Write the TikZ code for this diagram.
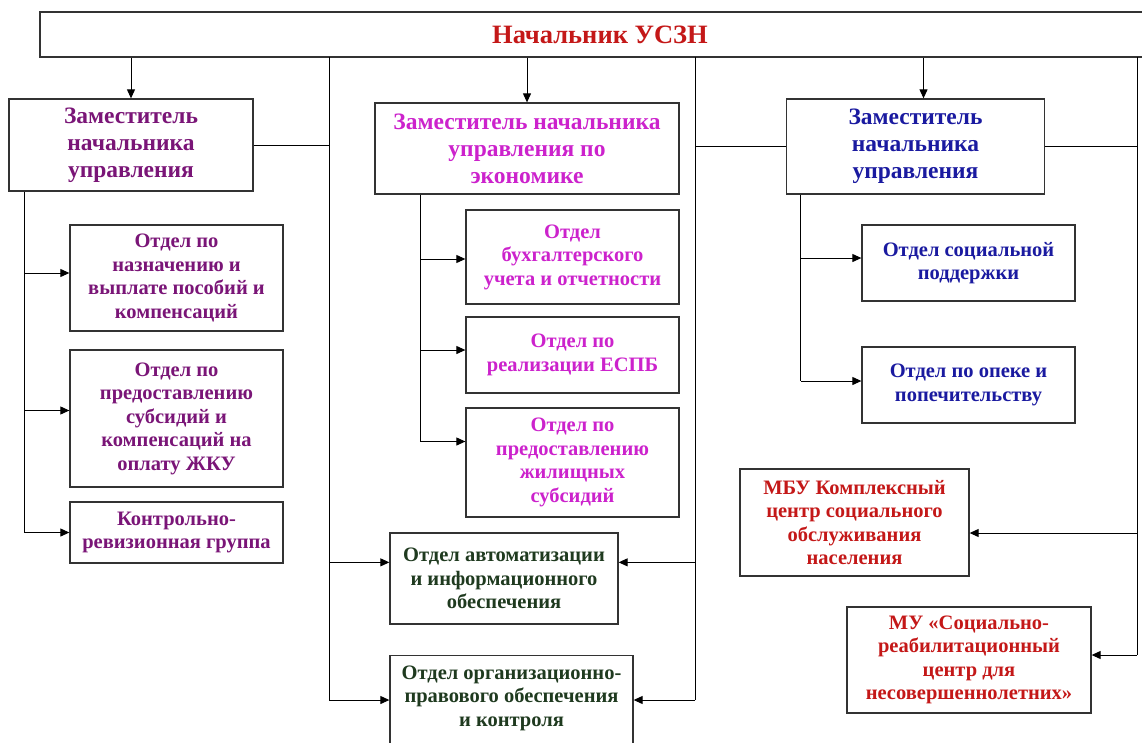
\documentclass[tikz,border=0pt]{standalone}
\usepackage{fontspec}
\setmainfont{Liberation Serif}
\usetikzlibrary{arrows.meta,calc}
\definecolor{cpur}{HTML}{7A1577}
\definecolor{cmag}{HTML}{CC22CC}
\definecolor{cblu}{HTML}{1A1AA0}
\definecolor{cgrn}{HTML}{1F3A1F}
\definecolor{cred}{HTML}{C41818}
\begin{document}
\begin{tikzpicture}[x=1pt,y=-1pt,
  box/.style={draw=black!80, line width=1.3pt, fill=white, align=center, inner sep=0pt,
    font=\bfseries\fontsize{20.5}{23.5}\selectfont},
  dep/.style={font=\bfseries\fontsize{23.5}{27}\selectfont},
  ln/.style={line width=1pt, black},
  arr/.style={ln, -{Triangle[length=9pt,width=8pt]}}]
\useasboundingbox (0,0) rectangle (1142,742);
\fill[white] (0,0) rectangle (1142,742);
\clip (0,0) rectangle (1142,742);
% boxes
\node[box, minimum width=1120, minimum height=45, font=\bfseries\fontsize{26.5}{30}\selectfont, text=cred] (top) at (600,34.5) {Начальник УСЗН};
\node[box, dep, text=cpur, minimum width=244, minimum height=92] (dl) at (131,145) {Заместитель\\начальника\\управления};
\node[box, dep, text=cmag, minimum width=304, minimum height=91] (dm) at (527,148.5) {Заместитель начальника\\управления по\\экономике};
\node[box, dep, text=cblu, minimum width=258, minimum height=95] (dr) at (915.5,146.5) {Заместитель\\начальника\\управления};
\node[box, text=cpur, minimum width=213, minimum height=106] (l1) at (176.5,278) {Отдел по\\назначению и\\выплате пособий и\\компенсаций};
\node[box, text=cpur, minimum width=213, minimum height=137] (l2) at (176.5,418.5) {Отдел по\\предоставлению\\субсидий и\\компенсаций на\\оплату ЖКУ};
\node[box, text=cpur, minimum width=213, minimum height=61] (l3) at (176.5,532.5) {Контрольно-\\ревизионная группа};
\node[box, text=cmag, minimum width=213, minimum height=94] (m1) at (572.5,257) {Отдел\\бухгалтерского\\учета и отчетности};
\node[box, text=cmag, minimum width=213, minimum height=76] (m2) at (572.5,355) {Отдел по\\реализации ЕСПБ};
\node[box, text=cmag, minimum width=213, minimum height=109] (m3) at (572.5,462.5) {Отдел по\\предоставлению\\жилищных\\субсидий};
\node[box, text=cgrn, minimum width=228, minimum height=91] (auto) at (504,578.5) {Отдел автоматизации\\и информационного\\обеспечения};
\node[box, text=cgrn, minimum width=243, anchor=north, inner ysep=10pt] (org) at (511.5,655) {Отдел организационно-\\правового обеспечения\\и контроля\\\strut\\\strut};
\node[box, text=cblu, minimum width=213, minimum height=76] (ds) at (968.5,263) {Отдел социальной\\поддержки};
\node[box, text=cblu, minimum width=213, minimum height=76] (op) at (968.5,385) {Отдел по опеке и\\попечительству};
\node[box, text=cred, minimum width=229, minimum height=107] (mbu) at (854.5,522.5) {МБУ Комплексный\\центр социального\\обслуживания\\населения};
\node[box, text=cred, minimum width=244, minimum height=106] (mu) at (969,660) {МУ «Социально-\\реабилитационный\\центр для\\несовершеннолетних»};
% top arrows
\draw[arr] (top.south -| dl.north) -- (dl.north);
\draw[arr] (top.south -| dm.north) -- (dm.north);
\coordinate (drn) at ($(dr.north)+(8,0)$);
\draw[arr] (top.south -| drn) -- (drn);
% left trunk
\coordinate (lt) at (329,57);
\coordinate (aw) at ($(auto.north west)+(0,30)$);
\coordinate (ow) at ($(org.north west)+(0,45)$);
\draw[ln] (lt) -- (ow -| lt);
\draw[ln] (dl.east) -- (dl.east -| lt);
\draw[arr] (aw -| lt) -- (aw);
\draw[arr] (ow -| lt) -- (ow);
% middle-right trunk
\coordinate (rt) at (695,57);
\coordinate (ae) at ($(auto.north east)+(0,30)$);
\coordinate (oe) at ($(org.north east)+(0,45)$);
\draw[ln] (rt) -- (oe -| rt);
\draw[ln] (dr.west -| rt) -- (dr.west);
\draw[arr] (ae -| rt) -- (ae);
\draw[arr] (oe -| rt) -- (oe);
% far right trunk
\coordinate (ft) at (1137,57);
\coordinate (me) at ($(mbu.east)+(0,10.5)$);
\coordinate (ue) at ($(mu.east)+(0,-5)$);
\draw[ln] (ft) -- (ue -| ft);
\draw[ln] (dr.east) -- (dr.east -| ft);
\draw[arr] (me -| ft) -- (me);
\draw[arr] (ue -| ft) -- (ue);
% left sub trunk
\coordinate (ls) at ($(dl.south west)+(16,0)$);
\coordinate (l1w) at ($(l1.west)+(0,-5)$);
\coordinate (l2w) at ($(l2.west)+(0,-8)$);
\coordinate (l3w) at (l3.west);
\draw[ln] (ls) -- (ls |- l3w);
\draw[arr] (ls |- l1w) -- (l1w);
\draw[arr] (ls |- l2w) -- (l2w);
\draw[arr] (ls |- l3w) -- (l3w);
% middle sub trunk
\coordinate (ms) at ($(dm.south west)+(46,0)$);
\coordinate (m1w) at ($(m1.west)+(0,2)$);
\coordinate (m2w) at ($(m2.west)+(0,-5)$);
\coordinate (m3w) at ($(m3.west)+(0,-21)$);
\draw[ln] (ms) -- (ms |- m3w);
\draw[arr] (ms |- m1w) -- (m1w);
\draw[arr] (ms |- m2w) -- (m2w);
\draw[arr] (ms |- m3w) -- (m3w);
% right sub trunk
\coordinate (rs) at ($(dr.south west)+(15,0)$);
\coordinate (dsw) at ($(ds.west)+(0,-5)$);
\coordinate (opw) at ($(op.west)+(0,-4)$);
\draw[ln] (rs) -- (rs |- opw);
\draw[arr] (rs |- dsw) -- (dsw);
\draw[arr] (rs |- opw) -- (opw);
\end{tikzpicture}
\end{document}
